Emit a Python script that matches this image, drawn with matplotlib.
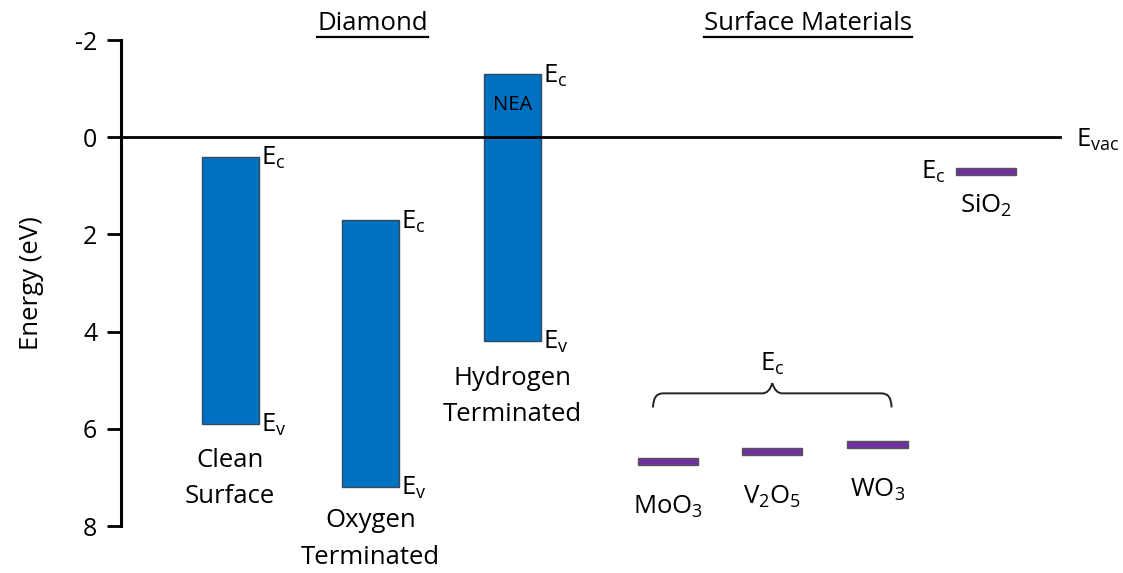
import matplotlib
matplotlib.use("Agg")
import matplotlib.pyplot as plt
from matplotlib.path import Path
from matplotlib.patches import PathPatch

plt.rcParams['font.family'] = ['Open Sans', 'DejaVu Sans']
plt.rcParams['mathtext.fontset'] = 'custom'
plt.rcParams['mathtext.rm'] = 'Open Sans'

# diamond surfaces: conduction / valence band edges (eV below vacuum)
diamond_names = ["Clean\nSurface", "Oxygen\nTerminated", "Hydrogen\nTerminated"]
diamond_ec = [0.4, 1.7, -1.3]
diamond_ev = [5.9, 7.2, 4.2]

# surface materials: conduction band edge
mat_names = [r"MoO$_\mathregular{3}$", r"V$_\mathregular{2}$O$_\mathregular{5}$",
             r"WO$_\mathregular{3}$", r"SiO$_\mathregular{2}$"]
mat_ec = [6.67, 6.46, 6.32, 0.71]

yticks = [-2, 0, 2, 4, 6, 8]

# layout
diamond_x = [1.09, 2.49, 3.91]
diamond_label_y = [7.02, 8.27, 5.33]
mat_x = [5.46, 6.5, 7.55, 8.63]
bar_w = 0.57
mat_w = 0.6
mat_h = 0.15
blue = "#0070C0"
purple = "#7030A0"
fs = 18.5

fig = plt.figure(figsize=(11.23, 5.73), dpi=100)
ax = fig.add_axes([0.1077, 0.082, 0.8923, 0.848])
ax.set_xlim(0, 10)
ax.set_ylim(8, -2)

for s in ["top", "right", "bottom"]:
    ax.spines[s].set_visible(False)
ax.spines["left"].set_linewidth(2.2)
ax.set_xticks([])
ax.set_yticks(yticks)
ax.set_yticklabels([str(t) for t in yticks])
ax.tick_params(axis="y", length=10, width=2, pad=7, labelsize=18)
ax.set_ylabel("Energy (eV)", fontsize=fs, labelpad=22)

# vacuum level
ax.plot([0, 9.37], [0, 0], color="black", lw=2, clip_on=False, zorder=3)
ax.text(9.53, 0.18, r"E$_\mathregular{vac}$", fontsize=fs, ha="left", va="baseline")

# diamond bands
for x, ec, ev, name, ly in zip(diamond_x, diamond_ec, diamond_ev, diamond_names, diamond_label_y):
    ax.bar(x, ev - ec, bottom=ec, width=bar_w, color=blue, edgecolor="#34495e",
           linewidth=1, zorder=2)
    ax.text(x + bar_w / 2 + 0.02, ec + 0.17, r"E$_\mathregular{c}$", fontsize=fs,
            ha="left", va="baseline")
    ax.text(x + bar_w / 2 + 0.02, ev + 0.15, r"E$_\mathregular{v}$", fontsize=fs,
            ha="left", va="baseline")
    ax.text(x, ly, name, fontsize=fs, ha="center", va="center", linespacing=1.6)

ax.text(diamond_x[2], -0.66, "NEA", fontsize=14.5, ha="center", va="center")

# surface materials
for i, (x, ec, name) in enumerate(zip(mat_x, mat_ec, mat_names)):
    ax.bar(x, mat_h, bottom=ec - mat_h / 2, width=mat_w, color=purple,
           edgecolor="#555555", linewidth=1, zorder=2)
    if i < 3:
        ax.text(x, ec + 1.08, name, fontsize=fs, ha="center", va="baseline")
    else:
        ax.text(x, ec + 0.83, name, fontsize=fs, ha="center", va="baseline")
        ax.text(x - mat_w / 2 - 0.1, ec + 0.13, r"E$_\mathregular{c}$", fontsize=fs,
                ha="right", va="baseline")

# brace over MoO3, V2O5, WO3
xl, xr = 5.31, 7.69
xc = (xl + xr) / 2
ye, yh, yt = 5.56, 5.27, 5.06
verts = [(xl, ye), (xl, yh), (xl + 0.1, yh), (xl + 0.3, yh),
         (xc - 0.1, yh), (xc - 0.03, yh), (xc, yt),
         (xc + 0.03, yh), (xc + 0.1, yh),
         (xr - 0.3, yh), (xr - 0.1, yh), (xr, yh), (xr, ye)]
codes = [Path.MOVETO, Path.CURVE3, Path.CURVE3, Path.LINETO,
         Path.LINETO, Path.CURVE3, Path.CURVE3,
         Path.CURVE3, Path.CURVE3,
         Path.LINETO, Path.LINETO, Path.CURVE3, Path.CURVE3]
ax.add_patch(PathPatch(Path(verts, codes), fill=False, lw=1.4, edgecolor="#222222"))
ax.text(xc, 4.8, r"E$_\mathregular{c}$", fontsize=fs, ha="center", va="baseline")

# group headings with underline
fig.canvas.draw()
renderer = fig.canvas.get_renderer()
for hx, title in [(2.51, "Diamond"), (6.86, "Surface Materials")]:
    t = ax.text(hx, -2.2, title, fontsize=fs, ha="center", va="baseline")
    bb = t.get_window_extent(renderer).transformed(ax.transData.inverted())
    ax.plot([bb.x0, bb.x1], [-2.07, -2.07], color="black", lw=1.6, clip_on=False)

fig.savefig("out.png", dpi=100)
